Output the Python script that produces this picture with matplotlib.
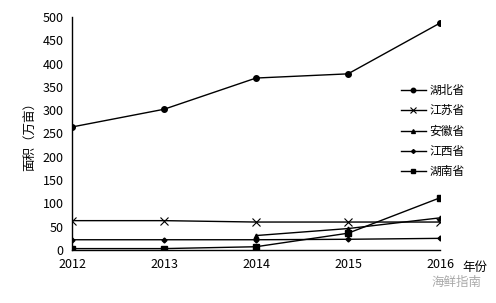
import matplotlib
matplotlib.use("Agg")
import matplotlib.pyplot as plt

plt.rcParams['font.family'] = ['Noto Sans CJK SC', 'DejaVu Sans']

years = [2012, 2013, 2014, 2015, 2016]
hubei = [264, 302, 369, 378, 487]
jiangsu = [63, 63, 60, 60, 60]
anhui_years = [2014, 2015, 2016]
anhui = [31, 46, 69]
jiangxi = [22, 22, 22, 23, 25]
hunan = [3, 3, 7, 36, 112]

fig = plt.figure(figsize=(4.96, 3.03), dpi=100)
ax = fig.add_axes([72/496, 53/303, 368/496, 233/303])

lw = 1.0
ax.plot(years, hubei, color="black", lw=lw, marker="o", ms=4, label="湖北省")
ax.plot(years, jiangsu, color="black", lw=lw, marker="x", ms=6, mew=0.8, label="江苏省")
ax.plot(anhui_years, anhui, color="black", lw=lw, marker="^", ms=3.5, label="安徽省")
ax.plot(years, jiangxi, color="black", lw=lw, marker="D", ms=2.5, label="江西省")
ax.plot(years, hunan, color="black", lw=lw, marker="s", ms=4, label="湖南省")

ax.set_xlim(2012, 2016)
ax.set_ylim(0, 500)
ax.set_yticks(range(0, 501, 50))
ax.set_xticks(years)
ax.tick_params(length=0, labelsize=9, pad=6)
for s in ["top", "right"]:
    ax.spines[s].set_visible(False)
ax.spines["left"].set_linewidth(1.0)
ax.spines["bottom"].set_linewidth(1.0)

ax.set_ylabel("面积（万亩）", fontsize=9, labelpad=4)
fig.text(462/496, 1 - 267/303, "年份", fontsize=9, va="center", ha="left")
fig.text(457/496, 1 - 282/303, "海鲜指南", fontsize=9, color="#aaaaaa", va="center", ha="center")

leg = ax.legend(loc="upper left", bbox_to_anchor=(401/496, 1 - 84/303),
                bbox_transform=fig.transFigure, frameon=False,
                fontsize=8.5, handlelength=2.1, labelspacing=0.62, borderaxespad=0,
                borderpad=0, handletextpad=0.3, markerscale=0.8)

fig.savefig("out.png", dpi=100)
